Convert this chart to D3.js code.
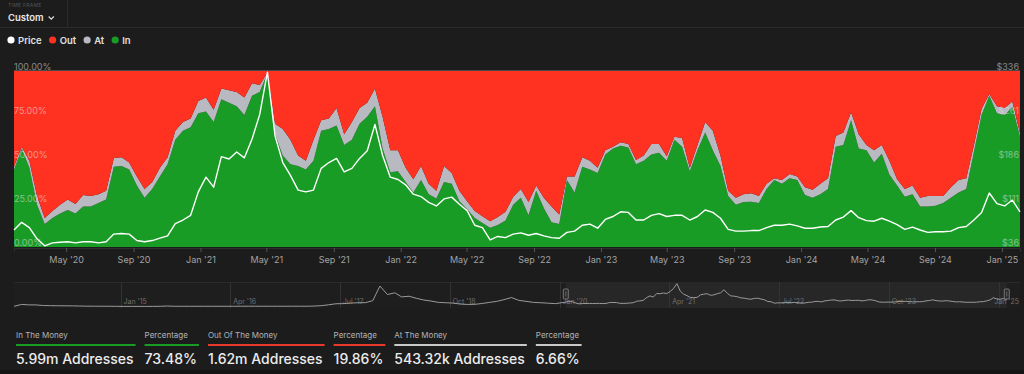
<!DOCTYPE html>
<html lang="en">
<head>
<meta charset="utf-8">
<title>In / Out of the Money</title>
<style>
  body { margin: 0; background: #1c1c1c; }
  svg { display: block; font-family: Inter, Roboto, "Open Sans", sans-serif; }
</style>
</head>
<body>
<script src="https://d3js.org/d3.v7.min.js"></script>
<div id="chart"></div>
<script>

// ---- data ----
var startDate = "2020-01-27";   // first point, one point every 14 days
var stepDays = 14;

var inPct = [43.7,56,45,24,13,16.5,19,21,19,23, 23,25,27,45.6,46,44,35,28,33,40,
  47,61,66,68,76,77,71,84,82,80, 75,86,88,98.8,64,52,47,46,44,49,
  66,67,69,58,61,70,74,80,56,42.5, 43,37,31,38,30,27.5,37,36,26,21.5,
  16.5,13.6,11,12.5,15,24,28,18,32,22, 14,13,38,31,45.6,44,42,52.5,56,57.5,
  56.5,47,49,52.5,53.5,49,61,57,43,55, 65,55,46,29,24,25.5,25.7,25,33,38,
  36,39,38,29.5,28,30,33,57,58,72, 56,55,48,53,41,35,28.6,30,23,23,
  23.5,25,28,31,33,54,75,86,76,75, 79.7,62.6];

var atPct = [1.9,1,4,5,3.5,4,5,6,5.5,6.5, 6,5,5,4.9,5,4,5,5,4,5,
  4,5,5,5,7,8,7,6,7,8, 10,7,4,0.4,6,15,14,6,5,12,
  6,6,10,6,10,9,8,10,18,12.5, 12,8,7.5,8,6,4.5,9,6,6,4.5,
  4,3.9,3.6,4.5,5,4.5,5,7.5,3,6, 9,5.5,2,9,5.4,5,3,2.5,1,2,
  2,2.5,3,6,5,2.5,1.6,5,2,3, 6,11,6,3,4,4.5,4.8,4,3,1,
  2,2.5,2,4.5,4.5,6,6,6,7,4.5, 8,3,7,5,8,3.5,4.4,5,5,6,
  5.5,4,6,7,6,4,3.5,1,4,4, 2.9,2];

var price = [65,78,69,50,38,43,44,45,43,45, 45,43,45,58,59,58,47,45,47,51,
  55,76,82,90,130,155,138,190,186,198, 188,220,262,334,225,180,158,133,130,133,
  170,180,187,164,170,187,200,245,192,155, 151,142,126,122,112,106,118,121,109,98,
  73,69,48,54,52,58,60,56,59,55, 52,51,61,63,73,75,68,83,88,96,
  95,82,82,90,93,88,90,90,82,88, 99,95,85,66,63,63,64,64,69,73,
  73,75,72,68,68,70,71,82,87,98, 86,81,80,85,80,74,66,70,65,61,
  62,62,63,69,71,82,95,128,110,106, 116,96];

// navigator history before the main window, one value per month from Oct 2013
var navStart = "2013-10-15";
var navPrices = [2.5,30,24,
  23,14,12,11,10,9,7,5,4.5,4,3.5,2.7,
  1.8,2,1.8,1.4,1.8,3,7,3,3,3,3.3,3.5,
  3.3,3.2,3.3,3.6,4,4.5,4,3.8,3.8,3.8,3.9,4.3,
  4,3.8,6,12,25,40,42,50,55,56,85,299,
  175,200,140,150,120,95,80,60,55,50,35,30,
  32,45,60,75,100,131,90,75,60,55,48,42];
var navEnd = "2025-03-30";
var navTickMonths = ["2015-01","2016-04","2017-07","2018-10","2020-01","2021-04","2022-07","2023-10","2025-01"];

var pctTicks = [0, 25, 50, 75, 100];
var priceTicks = [36, 111, 186, 261, 336];

var legendNames = ["Price", "Out", "At", "In"];
var statLabels = ["In The Money", "Percentage", "Out Of The Money", "Percentage", "At The Money", "Percentage"];
var statValues = ["5.99m Addresses", "73.48%", "1.62m Addresses", "19.86%", "543.32k Addresses", "6.66%"];
var statKeys = ["in", "in", "out", "out", "at", "at"];

var colors = {Price: "#ffffff", out: "#ff3222", at: "#b9b9c1", in: "#189c26"};
colors.Out = colors.out; colors.At = colors.at; colors.In = colors.in;
var statColors = {in: "#189c26", out: "#e8392c", at: "#c8c8c8"};

// ---- setup ----
var W = 1024, H = 374;
var svg = d3.select("#chart").append("svg").attr("width", W).attr("height", H);
svg.append("rect").attr("width", W).attr("height", H).attr("fill", "#1c1c1c");

var parseDay = d3.timeParse("%Y-%m-%d");
var parseMonth = d3.timeParse("%Y-%m");
var t0 = parseDay(startDate);
var rows = inPct.map(function(v, i) {
  return {date: d3.timeDay.offset(t0, i * stepDays), in: v, at: atPct[i], out: 100 - v - atPct[i], price: price[i]};
});

// header
svg.append("text").attr("x", 8).attr("y", 7).text("TIME FRAME")
  .attr("font-size", "5px").attr("fill", "#555").attr("letter-spacing", "0.3px");
var custom = svg.append("text").attr("x", 8).attr("y", 21).text("Custom")
  .attr("font-size", "9.5px").attr("font-weight", 600).attr("fill", "#e8e8e8");
var cx = 8 + custom.node().getComputedTextLength() + 5;
svg.append("path").attr("d", "M" + cx + ",16.5 l2.6,2.6 l2.6,-2.6")
  .attr("fill", "none").attr("stroke", "#ddd").attr("stroke-width", 1.2);
svg.append("line").attr("x1", 67.5).attr("x2", 67.5).attr("y1", 0).attr("y2", 27)
  .attr("stroke", "#2c2c2c");
svg.append("line").attr("x1", 0).attr("x2", W).attr("y1", 27.5).attr("y2", 27.5)
  .attr("stroke", "#2c2c2c");

// legend
var lx = 11;
legendNames.forEach(function(name) {
  svg.append("circle").attr("cx", lx).attr("cy", 40).attr("r", 3.6).attr("fill", colors[name]);
  var t = svg.append("text").attr("x", lx + 7).attr("y", 43.5).text(name)
    .attr("font-size", "9.5px").attr("font-weight", 600).attr("fill", "#e0e0e0");
  lx += 7 + t.node().getComputedTextLength() + 11;
});

// ---- main chart ----
var x = d3.scaleTime().domain(d3.extent(rows, function(d) { return d.date; })).range([14, 1020]);
var yPct = d3.scaleLinear().domain([0, 100]).range([247, 71]);
var yPrice = d3.scaleLinear().domain([36, 336]).range([247, 71]);

var stack = d3.stack().keys(["in", "at", "out"]);
var layers = stack(rows);
var area = d3.area()
  .x(function(d) { return x(d.data.date); })
  .y0(function(d) { return yPct(d[0]); })
  .y1(function(d) { return yPct(d[1]); });

svg.append("g").selectAll("path")
  .data(layers)
  .enter()
  .append("path")
    .attr("d", area)
    .attr("fill", function(d) { return colors[d.key]; });

svg.append("line").attr("x1", 14).attr("x2", 1020).attr("y1", 70.5).attr("y2", 70.5)
  .attr("stroke", "#4a4a4a");

var priceLine = d3.line()
  .x(function(d) { return x(d.date); })
  .y(function(d) { return yPrice(d.price); });
svg.append("path").datum(rows)
  .attr("d", priceLine)
  .attr("fill", "none")
  .attr("stroke", "#ffffff")
  .attr("stroke-width", 1.4)
  .attr("stroke-linejoin", "round");

// y labels
svg.append("g").selectAll("text")
  .data(pctTicks)
  .enter()
  .append("text")
    .attr("x", 14)
    .attr("y", function(d) { return yPct(d) - 1; })
    .text(function(d) { return d.toFixed(2) + "%"; })
    .attr("font-size", "9px")
    .attr("fill", "rgba(225,225,225,0.55)");

svg.append("g").selectAll("text")
  .data(priceTicks)
  .enter()
  .append("text")
    .attr("x", 1019)
    .attr("y", function(d) { return yPrice(d) - 1; })
    .attr("text-anchor", "end")
    .text(function(d) { return "$" + d; })
    .attr("font-size", "9px")
    .attr("fill", "rgba(225,225,225,0.55)");

// x axis
var xAxis = d3.axisBottom(x)
  .ticks(d3.timeMonth.every(4))
  .tickFormat(d3.timeFormat("%b '%y"))
  .tickSize(4)
  .tickPadding(5);
var gx = svg.append("g").attr("transform", "translate(0,248)").call(xAxis);
gx.select(".domain").attr("stroke", "#2e2e2e");
gx.selectAll(".tick line").attr("stroke", "#555");
gx.selectAll(".tick text").attr("fill", "#a3a3a3").attr("font-size", "9px")
  .attr("font-family", "Inter, Roboto, sans-serif");

// ---- navigator ----
var n0 = parseDay(navStart);
var navRows = navPrices.map(function(v, i) {
  return {date: d3.timeMonth.offset(n0, i), price: v};
}).concat(rows.map(function(d) { return {date: d.date, price: d.price}; }));

var nx = d3.scaleTime().domain([n0, parseDay(navEnd)]).range([14, 1020]);
var ny = d3.scaleLinear().domain([0, 336]).range([306.5, 283.5]);

svg.append("rect").attr("x", 14).attr("y", 282).attr("width", 1006).attr("height", 26)
  .attr("fill", "#1e1e1e");
svg.append("line").attr("x1", 14).attr("x2", 1020).attr("y1", 282.5).attr("y2", 282.5)
  .attr("stroke", "#2a2a2a");

var selX0 = nx(rows[0].date), selX1 = nx(rows[rows.length - 1].date);
svg.append("rect").attr("x", selX0).attr("y", 282).attr("width", selX1 - selX0).attr("height", 26)
  .attr("fill", "#272727");

var navTicks = navTickMonths.map(function(m) { return parseMonth(m); });
svg.append("g").selectAll("line")
  .data(navTicks)
  .enter()
  .append("line")
    .attr("x1", function(d) { return Math.round(nx(d)) + 0.5; })
    .attr("x2", function(d) { return Math.round(nx(d)) + 0.5; })
    .attr("y1", 282).attr("y2", 308)
    .attr("stroke", "#333");
// labels sit right of their line; the last one is pulled back so it stays inside
svg.append("g").selectAll("text")
  .data(navTicks)
  .enter()
  .append("text")
    .attr("x", function(d, i) { return i === navTicks.length - 1 ? 1019 : nx(d) + 3; })
    .attr("text-anchor", function(d, i) { return i === navTicks.length - 1 ? "end" : "start"; })
    .attr("y", 304)
    .text(d3.timeFormat("%b '%y"))
    .attr("font-size", "7px")
    .attr("fill", "#6f6f6f");

var navLine = d3.line()
  .x(function(d) { return nx(d.date); })
  .y(function(d) { return ny(d.price); });
svg.append("path").datum(navRows)
  .attr("d", navLine)
  .attr("fill", "none")
  .attr("stroke", "#9a9a9a")
  .attr("stroke-width", 1);

[selX0, selX1].forEach(function(hx) {
  svg.append("rect").attr("x", hx - 2.5).attr("y", 289).attr("width", 5).attr("height", 10)
    .attr("rx", 1).attr("fill", "#2b2b2b").attr("stroke", "#8a8a8a").attr("stroke-width", 0.8);
  svg.append("line").attr("x1", hx).attr("x2", hx).attr("y1", 291.5).attr("y2", 296.5)
    .attr("stroke", "#8a8a8a").attr("stroke-width", 0.6);
});

// ---- stats row ----
var sx = 16;
statLabels.forEach(function(label, i) {
  var lab = svg.append("text").attr("x", sx).attr("y", 338).text(label)
    .attr("font-size", "8px").attr("fill", "#b5b5b5");
  var val = svg.append("text").attr("x", sx).attr("y", 364).text(statValues[i])
    .attr("font-size", "14px").attr("font-weight", 500).attr("fill", "#ececec");
  var w = Math.max(lab.node().getComputedTextLength(), val.node().getComputedTextLength()) + 2;
  svg.append("line").attr("x1", sx).attr("x2", sx + w).attr("y1", 345).attr("y2", 345)
    .attr("stroke", statColors[statKeys[i]])
    .attr("stroke-width", 2);
  sx += w + 9;
});

svg.append("rect").attr("x", 0).attr("y", 370).attr("width", W).attr("height", 4).attr("fill", "#141414");

</script>
</body>
</html>
